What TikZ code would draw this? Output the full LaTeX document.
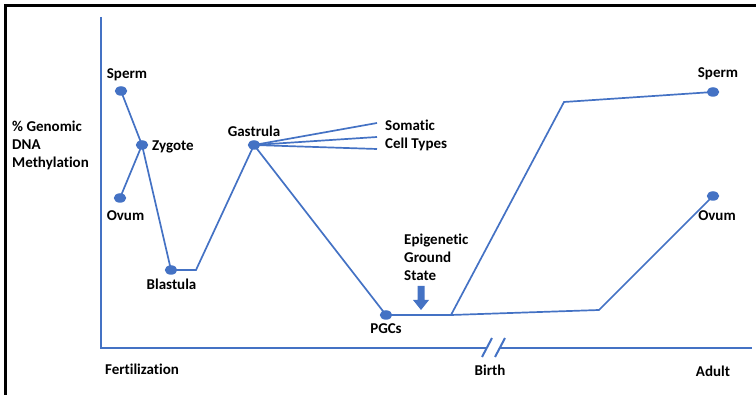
\documentclass[tikz,border=0pt]{standalone}
\usepackage{fontspec}
\setmainfont[Ligatures=NoCommon]{Carlito}
\usetikzlibrary{shapes.geometric}
\definecolor{lineblue}{HTML}{4472C4}
\begin{document}
\begin{tikzpicture}[x=1pt,y=-1pt,
  lbl/.style={font=\bfseries\fontsize{15}{18}\selectfont, inner sep=0pt, text=black},
  dot/.style={ellipse, fill=lineblue, minimum width=12.5pt, minimum height=9.5pt, inner sep=0pt},
  curve/.style={draw=lineblue, line width=1.7pt, line join=miter},
  axis/.style={draw=lineblue, line width=2.6pt}]
\useasboundingbox (0,0) rectangle (756,395);
% frame
\draw[line width=2.8pt] (5.2,395) -- (5.2,5.3) -- (756,5.3);
% axes
\coordinate (ytop) at (101,17);
\coordinate (orig) at (101,348);
\coordinate (brA) at (487,348);
\coordinate (brB) at (500,348);
\coordinate (xend) at (752,348);
\draw[axis] (ytop) -- (orig) -- (brA);
\draw[axis] (brB) -- (xend);
\draw[draw=lineblue, line width=2pt] (482,357) -- (492,338);
\draw[draw=lineblue, line width=2pt] (495,357) -- (505,338);
% points
\coordinate (bl2) at (196,270);
\coordinate (s1) at (377,123);
\coordinate (s2) at (377,137);
\coordinate (s3) at (377,149);
\coordinate (split) at (451,315);
\coordinate (up) at (564,102);
\coordinate (low) at (599,310);
% dots
\node[dot] (sperm1) at (121,91) {};
\node[dot] (zygote) at (142,145) {};
\node[dot] (ovum1) at (120,198) {};
\node[dot] (blast) at (171,270) {};
\node[dot] (gast) at (254,145) {};
\node[dot] (pgc) at (386,315) {};
\node[dot] (sperm2) at (713,92) {};
\node[dot] (ovum2) at (713,196) {};
% lines
\draw[curve] (sperm1.center) -- (zygote.center) -- (ovum1.center);
\draw[curve] (zygote.center) -- (blast.center) -- (bl2) -- (gast.center) -- (pgc.center) -- (split) -- (up) -- (sperm2.center);
\draw[curve] (split) -- (low) -- (ovum2.center);
\draw[curve] (gast.center) -- (s1);
\draw[curve] (gast.center) -- (s2);
\draw[curve] (gast.center) -- (s3);
% arrow
\fill[lineblue] (417.5,286) -- (424.5,286) -- (424.5,300) -- (429,300) -- (421,310) -- (413,300) -- (417.5,300) -- cycle;
% labels
\node[lbl] (tsperm1) at (127,75) {Sperm};
\node[lbl, anchor=west, align=left] (tylab) at (12,145) {\% Genomic\\DNA\\Methylation};
\node[lbl, anchor=west] (tzyg) at (152,147) {Zygote};
\node[lbl] (tovum1) at (125.5,216) {Ovum};
\node[lbl] (tblast) at (171.5,284) {Blastula};
\node[lbl] (tgast) at (254,131) {Gastrula};
\node[lbl, anchor=west, align=left] (tsom) at (385,135.5) {Somatic\\Cell Types};
\node[lbl, anchor=west, align=left] (tepi) at (404,257) {Epigenetic\\Ground\\State};
\node[lbl] (tpgc) at (386,329) {PGCs};
\node[lbl] (tfert) at (142,369) {Fertilization};
\node[lbl] (tbirth) at (490,370) {Birth};
\node[lbl] (tadult) at (713,371) {Adult};
\node[lbl] (tsperm2) at (718,74) {Sperm};
\node[lbl] (tovum2) at (717,216) {Ovum};
\end{tikzpicture}
\end{document}
